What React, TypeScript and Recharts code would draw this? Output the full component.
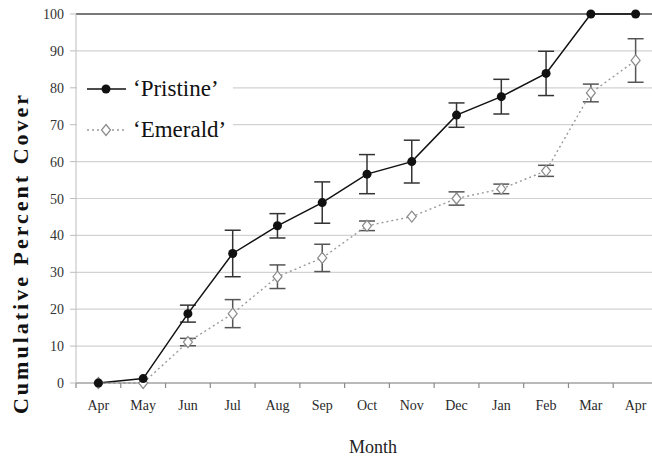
import React from 'react';
import {
  LineChart,
  Line,
  XAxis,
  YAxis,
  CartesianGrid,
  ErrorBar,
  ReferenceLine,
  Legend,
} from 'recharts';

const months = ['Apr', 'May', 'Jun', 'Jul', 'Aug', 'Sep', 'Oct', 'Nov', 'Dec', 'Jan', 'Feb', 'Mar', 'Apr'];
const pristine = [0, 1.2, 18.8, 35.1, 42.6, 48.9, 56.6, 60.0, 72.6, 77.6, 83.9, 100, 100];
const pristineErr = [0, 0, 2.3, 6.3, 3.3, 5.6, 5.3, 5.8, 3.3, 4.7, 6.0, 0, 0];
const emerald = [0, 0, 11.1, 18.8, 28.8, 33.9, 42.6, 45.1, 50.0, 52.6, 57.5, 78.6, 87.4];
const emeraldErr = [0, 0, 1.0, 3.8, 3.2, 3.7, 1.3, 0, 1.8, 1.3, 1.5, 2.4, 5.9];
const yTicks = [0, 10, 20, 30, 40, 50, 60, 70, 80, 90, 100];
const seriesNames = ['\u2018Pristine\u2019', '\u2018Emerald\u2019'];

const data = months.map((m, i) => ({
  idx: i,
  month: m,
  pristine: pristine[i],
  pristineErr: pristineErr[i],
  emerald: emerald[i],
  emeraldErr: emeraldErr[i],
}));

const tickIdx = months.map((_, i) => i);
const boundaryTicks = [...months.map((_, i) => i - 0.5), months.length - 0.5];

const FONT = "'Liberation Serif', 'Times New Roman', Times, serif";

const Diamond = (props: any) => {
  const { cx, cy } = props;
  if (cx == null || cy == null) return null;
  return (
    <polygon
      points={`${cx},${cy - 5.5} ${cx + 4.5},${cy} ${cx},${cy + 5.5} ${cx - 4.5},${cy}`}
      fill="#fff"
      stroke="#8a8a8a"
      strokeWidth={1.2}
    />
  );
};

const YLabel = () => (
  <text
    x={20}
    y={253}
    transform="rotate(-90, 20, 253)"
    textAnchor="middle"
    dominantBaseline="central"
    fontFamily={FONT}
    fontWeight="bold"
    fontSize={22}
    letterSpacing={3}
    fill="#111"
  >
    Cumulative Percent Cover
  </text>
);

const XLabel = () => (
  <text x={373} y={453} textAnchor="middle" fontFamily={FONT} fontSize={18} fill="#222">
    Month
  </text>
);

const EmptyTick = () => <g />;

const XTick = (props: any) => {
  const { x, y, payload } = props;
  return (
    <text x={x} y={y + 14} textAnchor="middle" fontFamily={FONT} fontSize={14} fill="#2a2a2a">
      {months[payload.value]}
    </text>
  );
};

const YTick = (props: any) => {
  const { x, y, payload } = props;
  return (
    <text x={x} y={y} dy={5} textAnchor="end" fontFamily={FONT} fontSize={14} fill="#333">
      {payload.value}
    </text>
  );
};

const LegendBox = () => (
  <div style={{ position: 'relative', width: 156, height: 95, background: '#fff', fontFamily: FONT }}>
    {seriesNames.map((name, i) => (
      <div
        key={name}
        style={{ position: 'absolute', left: 8, top: 29 + i * 41 - 14, height: 28, display: 'flex', alignItems: 'center' }}
      >
        <svg width={44} height={28} style={{ display: 'block' }}>
          {i === 0 ? (
            <>
              <line x1={2} y1={14} x2={41} y2={14} stroke="#111" strokeWidth={1.5} />
              <circle cx={21} cy={14} r={4.5} fill="#111" />
            </>
          ) : (
            <>
              <line x1={2} y1={14} x2={41} y2={14} stroke="#9a9a9a" strokeWidth={1.3} strokeDasharray="2 3" />
              <Diamond cx={21} cy={14} />
            </>
          )}
        </svg>
        <span style={{ fontFamily: FONT, fontSize: 23, color: '#111', marginLeft: 4, lineHeight: '28px', whiteSpace: 'nowrap' }}>
          {name}
        </span>
      </div>
    ))}
  </div>
);

export default function App() {
  return (
    <div
      style={{
        position: 'absolute',
        left: 0,
        top: 0,
        width: 652,
        height: 458,
        overflow: 'hidden',
        background: '#fff',
        fontFamily: FONT,
      }}
    >
      <LineChart width={660} height={458} data={data} margin={{ top: 14, right: 2, bottom: 0, left: 0 }}>
        <CartesianGrid vertical={false} stroke="#d2d2d2" strokeWidth={1.2} />
        <XAxis
          type="number"
          dataKey="idx"
          domain={[-0.5, months.length - 0.5]}
          ticks={boundaryTicks}
          interval={0}
          tick={<EmptyTick />}
          tickSize={5}
          height={5}
          axisLine={{ stroke: '#8a8a8a', strokeWidth: 1.2 }}
          tickLine={{ stroke: '#8a8a8a', strokeWidth: 1.2 }}
        />
        <XAxis
          xAxisId="m"
          type="number"
          dataKey="idx"
          domain={[-0.5, months.length - 0.5]}
          ticks={tickIdx}
          interval={0}
          tick={<XTick />}
          tickLine={false}
          axisLine={false}
          height={70}
          label={<XLabel />}
        />
        <YAxis
          type="number"
          domain={[0, 100]}
          ticks={yTicks}
          interval={0}
          width={76}
          tick={<YTick />}
          tickMargin={6}
          tickSize={6}
          axisLine={{ stroke: '#bdbdbd' }}
          tickLine={{ stroke: '#bdbdbd' }}
          label={<YLabel />}
        />
        <ReferenceLine y={100} stroke="#555" strokeWidth={1.3} />
        <Legend
          layout="vertical"
          align="center"
          verticalAlign="middle"
          content={() => <LegendBox />}
          wrapperStyle={{ position: 'absolute', left: 77, top: 60, width: 156, height: 95, right: 'auto', bottom: 'auto' }}
        />
        <Line
          type="linear"
          dataKey="emerald"
          name={seriesNames[1]}
          stroke="#9a9a9a"
          strokeWidth={1.4}
          strokeDasharray="2 3"
          dot={(p: any) => <Diamond key={`e-${p.index}`} cx={p.cx} cy={p.cy} />}
          isAnimationActive={false}
        >
          <ErrorBar dataKey="emeraldErr" width={8} stroke="#555" strokeWidth={1.5} />
        </Line>
        <Line
          type="linear"
          dataKey="pristine"
          name={seriesNames[0]}
          stroke="#111"
          strokeWidth={1.5}
          dot={{ r: 4.5, fill: '#111', stroke: '#111', strokeWidth: 0 }}
          isAnimationActive={false}
        >
          <ErrorBar dataKey="pristineErr" width={8} stroke="#333" strokeWidth={1.5} />
        </Line>
      </LineChart>
    </div>
  );
}
